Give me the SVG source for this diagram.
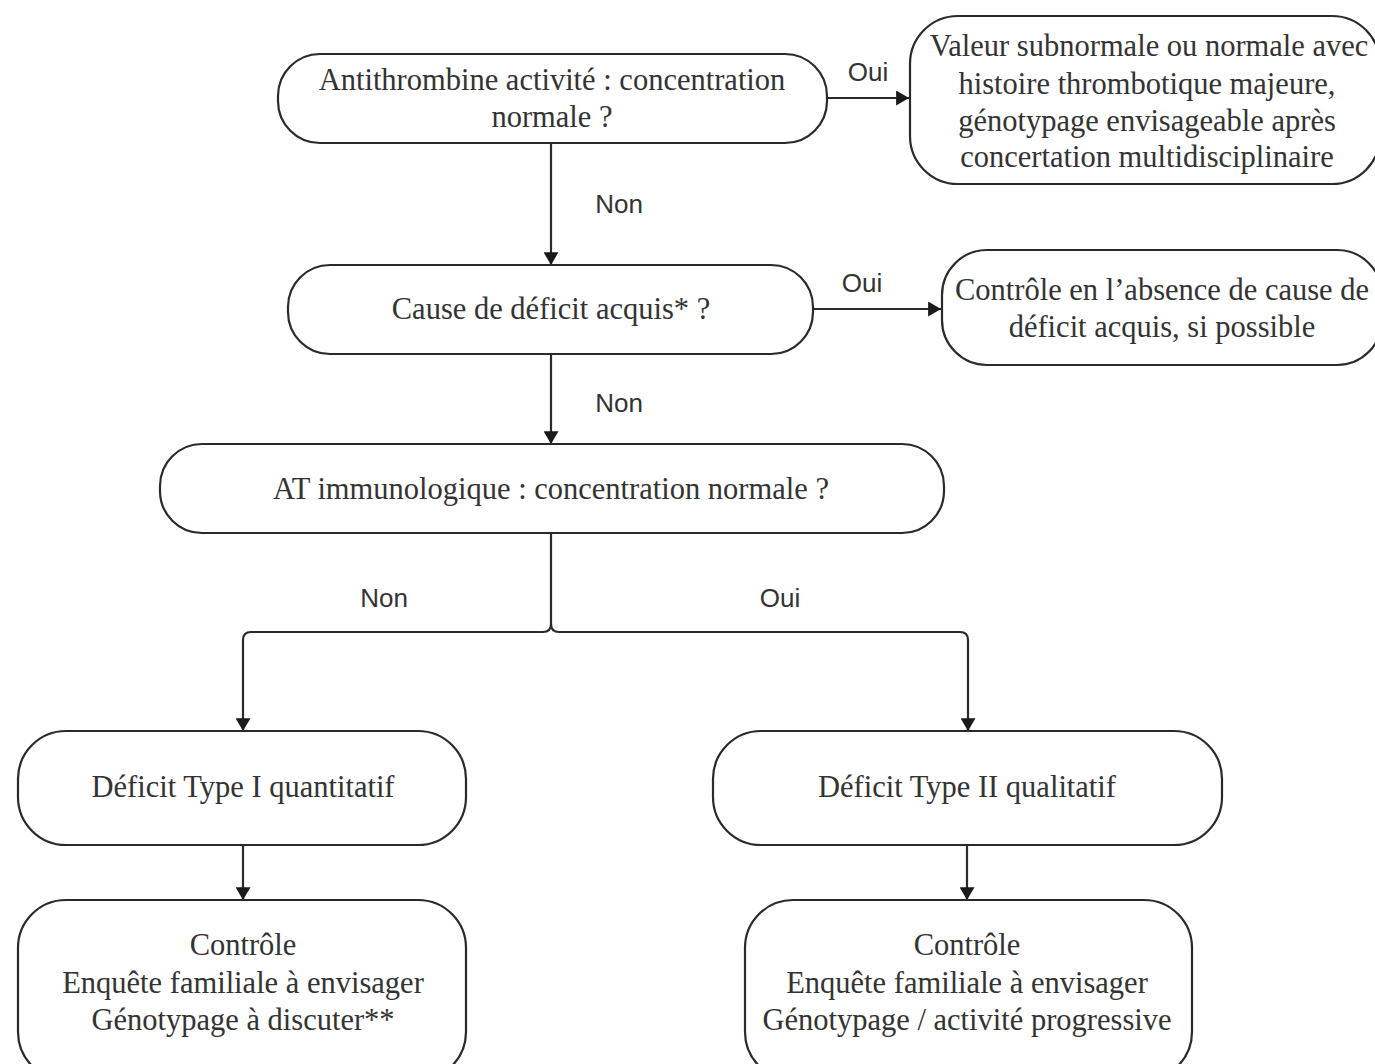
<svg xmlns="http://www.w3.org/2000/svg" width="1375" height="1064" viewBox="0 0 1375 1064">
<defs>
<marker id="arr" viewBox="0 0 12 14" refX="12" refY="7" markerWidth="13" markerHeight="15" markerUnits="userSpaceOnUse" orient="auto">
<path d="M0,0 L12,7 L0,14 Z" fill="#1a1a1a"/>
</marker>
</defs>
<style>
.n{fill:#fff;stroke:#2a2a2a;stroke-width:2.2}
.t{font-family:"Liberation Serif","Times New Roman",serif;font-size:30.5px;fill:#333;text-anchor:middle}
.l{font-family:"Liberation Sans",Arial,sans-serif;font-size:26px;fill:#333;text-anchor:middle}
.c{fill:none;stroke:#2a2a2a;stroke-width:2.2}
</style>
<rect width="1375" height="1064" fill="#fff"/>
<g id="connectors">
<path class="c" d="M827,98 H909" marker-end="url(#arr)"/>
<path class="c" d="M551,143 V265" marker-end="url(#arr)"/>
<path class="c" d="M813,309 H941" marker-end="url(#arr)"/>
<path class="c" d="M551,354 V444" marker-end="url(#arr)"/>
<path class="c" d="M551,533 V624 Q551,632 543,632 H251 Q243,632 243,640 V731" marker-end="url(#arr)"/>
<path class="c" d="M551,624 Q551,632 559,632 H960 Q968,632 968,640 V731" marker-end="url(#arr)"/>
<path class="c" d="M243,845 V900" marker-end="url(#arr)"/>
<path class="c" d="M967,845 V900" marker-end="url(#arr)"/>
<text class="l" x="868" y="81">Oui</text>
<text class="l" x="619" y="213">Non</text>
<text class="l" x="862" y="292">Oui</text>
<text class="l" x="619" y="412">Non</text>
<text class="l" x="384" y="607">Non</text>
<text class="l" x="780" y="607">Oui</text>
</g>
<g id="n1">
<rect class="n" x="278" y="54" width="549" height="89" rx="42" ry="42"/>
<text class="t" x="552" y="90">Antithrombine activité : concentration</text>
<text class="t" x="552" y="127">normale ?</text>
</g>
<g id="n2">
<rect class="n" x="910" y="16" width="470" height="168" rx="48" ry="48"/>
<text class="t" x="1149" y="56">Valeur subnormale ou normale avec</text>
<text class="t" x="1147" y="94">histoire thrombotique majeure,</text>
<text class="t" x="1147" y="131">génotypage envisageable après</text>
<text class="t" x="1147" y="167">concertation multidisciplinaire</text>
</g>
<g id="n3">
<rect class="n" x="288" y="265" width="525" height="89" rx="42" ry="42"/>
<text class="t" x="551" y="319">Cause de déficit acquis* ?</text>
</g>
<g id="n4">
<rect class="n" x="942" y="250" width="440" height="115" rx="45" ry="45"/>
<text class="t" x="1162" y="300">Contrôle en l’absence de cause de</text>
<text class="t" x="1162" y="337">déficit acquis, si possible</text>
</g>
<g id="n5">
<rect class="n" x="160" y="444" width="784" height="89" rx="42" ry="42"/>
<text class="t" x="551" y="499">AT immunologique : concentration normale ?</text>
</g>
<g id="n6">
<rect class="n" x="18" y="731" width="448" height="114" rx="48" ry="48"/>
<text class="t" x="243" y="797">Déficit Type I quantitatif</text>
</g>
<g id="n7">
<rect class="n" x="713" y="731" width="509" height="114" rx="48" ry="48"/>
<text class="t" x="967" y="797">Déficit Type II qualitatif</text>
</g>
<g id="n8">
<rect class="n" x="18" y="900" width="448" height="180" rx="48" ry="48"/>
<text class="t" x="243" y="955">Contrôle</text>
<text class="t" x="243" y="993">Enquête familiale à envisager</text>
<text class="t" x="243" y="1030">Génotypage à discuter**</text>
</g>
<g id="n9">
<rect class="n" x="745" y="900" width="447" height="180" rx="48" ry="48"/>
<text class="t" x="967" y="955">Contrôle</text>
<text class="t" x="967" y="993">Enquête familiale à envisager</text>
<text class="t" x="967" y="1030">Génotypage / activité progressive</text>
</g>
</svg>
